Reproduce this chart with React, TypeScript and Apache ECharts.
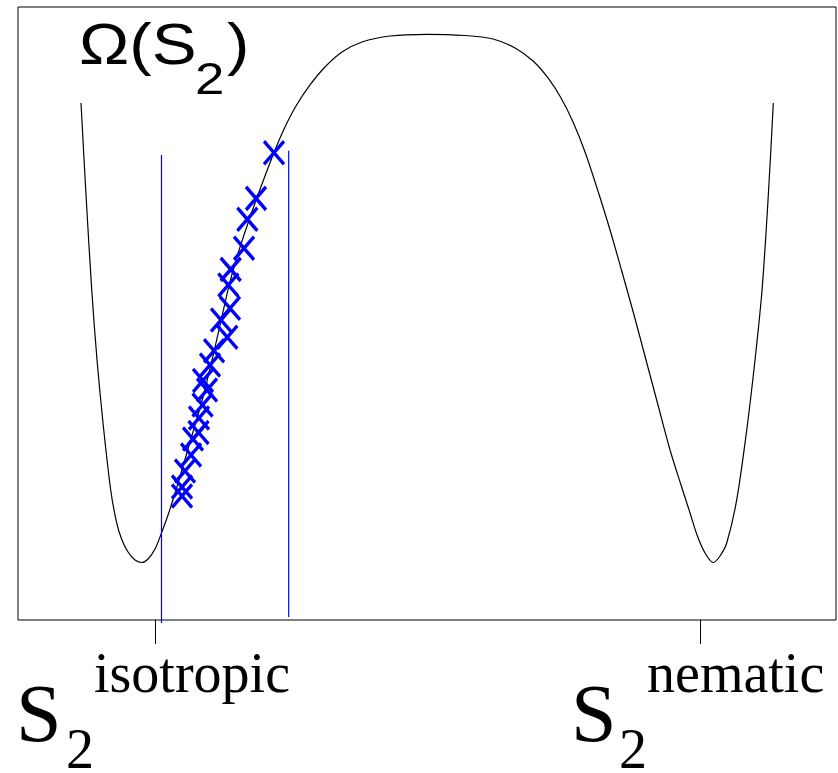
import React, { useEffect, useRef } from "react";
import * as echarts from "echarts";

// Order parameter axis: isotropic minimum tick at 0, nematic minimum tick at 1
const tickValues = [0, 1];
const X_MIN = -0.2514;
const X_MAX = 1.2495;

// Free-energy curve Omega(S2) (arbitrary units, 0..1 of the plotting frame)
const curveX = [
  -0.1358, -0.1266, -0.1161, -0.1064, -0.0954, -0.0813, -0.0703, -0.0606, -0.0495, -0.0367,
  -0.0244, -0.0128, 0.0, 0.0105, 0.0239, 0.0385, 0.0514, 0.0697, 0.0881, 0.1046,
  0.1193, 0.1339, 0.1486, 0.1651, 0.1835, 0.2018, 0.2202, 0.2385, 0.2587, 0.2844,
  0.3119, 0.3431, 0.3798, 0.4312, 0.4991, 0.5688, 0.6202, 0.6606, 0.6936, 0.7211,
  0.745, 0.767, 0.789, 0.811, 0.8349, 0.8569, 0.8789, 0.9009, 0.9229, 0.945,
  0.9651, 0.9817, 0.9945, 1.0092, 1.0244, 1.0367, 1.049, 1.0673, 1.0857, 1.1009,
  1.1138, 1.1248, 1.1345,
];
const curveY = [
  0.8434, 0.6933, 0.5383, 0.4241, 0.3214, 0.2121, 0.1582, 0.1305, 0.1109, 0.0979,
  0.0938, 0.0995, 0.1158, 0.1387, 0.1713, 0.2121, 0.2512, 0.3067, 0.3638, 0.4241,
  0.4812, 0.5383, 0.5873, 0.633, 0.6803, 0.7243, 0.7667, 0.8042, 0.8385, 0.8728,
  0.9021, 0.9266, 0.9429, 0.9527, 0.9555, 0.9535, 0.9478, 0.9331, 0.9119, 0.8842,
  0.8515, 0.8124, 0.7635, 0.7047, 0.6362, 0.5677, 0.4976, 0.4241, 0.3507, 0.2773,
  0.2202, 0.1746, 0.1387, 0.1093, 0.0938, 0.1044, 0.1256, 0.1958, 0.31, 0.4241,
  0.5383, 0.6852, 0.8434,
];

// Sampled points (blue crosses)
const markerX = [
  0.2183, 0.1853, 0.1694, 0.1633, 0.1389, 0.1345, 0.1376, 0.1211, 0.1327, 0.1083,
  0.1009, 0.0881, 0.0954, 0.0872, 0.0807, 0.0798, 0.0697, 0.0661, 0.055, 0.0495, 0.0495,
];
const markerY = [
  0.7623, 0.6879, 0.6537, 0.6064, 0.5721, 0.5465, 0.5085, 0.4894, 0.4612, 0.4393,
  0.416, 0.3907, 0.3752, 0.3507, 0.3295, 0.3059, 0.2953, 0.2692, 0.2431, 0.217, 0.2023,
];

// Blue vertical bounds of the sampling window
const vlineX = [0.0119, 0.2453];
const vlineTop = [0.7586, 0.7656];
const vlineBottom = [-0.005, 0.005];

export default function App() {
  const ref = useRef<HTMLDivElement>(null);

  useEffect(() => {
    if (!ref.current) return;
    const chart = echarts.init(ref.current, undefined, { renderer: "svg" });
    const serif = "'Liberation Serif', 'Times New Roman', serif";
    const sans = "'Liberation Sans', Arial, sans-serif";

    const txt = (
      text: string,
      x: number,
      y: number,
      size: number,
      family: string,
      sx = 1,
      lh?: number
    ) => ({
      type: "text",
      x,
      y,
      scaleX: sx,
      style: {
        text,
        fontSize: size,
        fontFamily: family,
        fill: "#000",
        align: "left",
        verticalAlign: "middle",
        textAlign: "left",
        textVerticalAlign: "middle",
        ...(lh ? { lineHeight: lh } : {}),
      },
    });

    chart.setOption({
      animation: false,
      grid: {
        left: 18,
        right: 2,
        top: 7,
        bottom: 153,
        show: true,
        borderColor: "#000",
        borderWidth: 1,
        backgroundColor: "transparent",
      },
      xAxis: {
        type: "value",
        min: X_MIN,
        max: X_MAX,
        axisLine: { show: false },
        axisTick: {
          show: true,
          customValues: tickValues,
          length: 24,
          lineStyle: { color: "#000", width: 1 },
        },
        axisLabel: { show: false },
        splitLine: { show: false },
      },
      yAxis: {
        type: "value",
        min: 0,
        max: 1,
        show: false,
        splitLine: { show: false },
      },
      series: [
        {
          type: "line",
          data: curveX.map((x, i) => [x, curveY[i]]),
          smooth: 0.3,
          showSymbol: false,
          symbol: "none",
          lineStyle: { color: "#000", width: 1.2 },
          z: 2,
        },
        ...vlineX.map((x, i) => ({
          type: "line",
          data: [
            [x, vlineBottom[i]],
            [x, vlineTop[i]],
          ],
          showSymbol: false,
          symbol: "none",
          clip: false,
          lineStyle: { color: "#0000ff", width: 1.2 },
          z: 3,
        })),
        {
          type: "scatter",
          data: markerX.map((x, i) => [x, markerY[i]]),
          symbol: "path://M0,0L20,23M20,0L0,23",
          symbolSize: [20, 23],
          itemStyle: {
            color: "rgba(0,0,0,0)",
            borderColor: "#0000ff",
            borderWidth: 3.5,
            opacity: 1,
          },
          z: 4,
        },
      ],
    });

    const p0 = chart.convertToPixel({ xAxisIndex: 0 }, tickValues[0]) as number;
    const p1 = chart.convertToPixel({ xAxisIndex: 0 }, tickValues[1]) as number;

    chart.setOption({
      graphic: [
        txt("Ω(S", 79, 44, 57, sans, 1.18),
        txt("2", 195, 79, 44, sans, 1.2),
        txt(")", 227, 44, 57, sans, 1.18),
        txt("S", p0 - 139, 713, 82, serif),
        txt("2", p0 - 89, 749, 56, serif, 1, 40),
        txt("isotropic", p0 - 61, 673, 56, serif),
        txt("S", p1 - 129, 713, 82, serif),
        txt("2", p1 - 81, 749, 56, serif, 1, 40),
        txt("nematic", p1 - 53, 673, 56, serif),
      ],
    });

    return () => chart.dispose();
  }, []);

  return (
    <div
      ref={ref}
      style={{ position: "fixed", left: 0, top: 0, width: 838, height: 773 }}
    />
  );
}
